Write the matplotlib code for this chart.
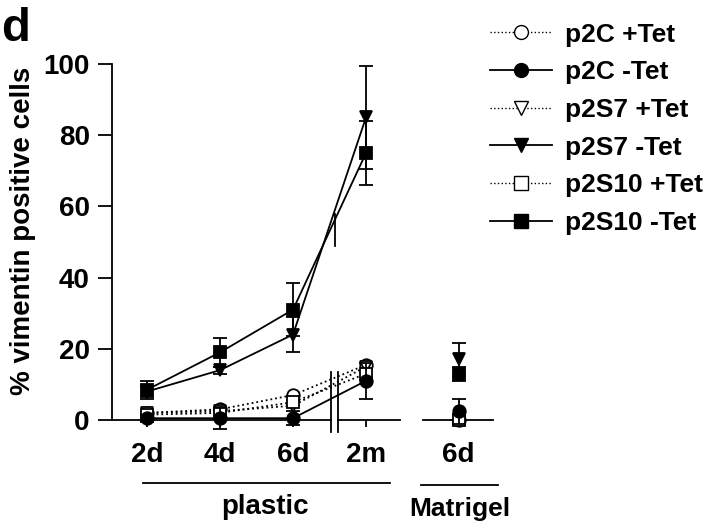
import matplotlib
matplotlib.use("Agg")
import matplotlib.pyplot as plt
from matplotlib.lines import Line2D

plt.rcParams["font.family"] = ["Liberation Sans", "DejaVu Sans"]
plt.rcParams["font.weight"] = "bold"

# x categories: four time points on plastic, one on Matrigel
tick_labels = ["2d", "4d", "6d", "2m", "6d"]
x_pos = [0, 1, 2, 3, 4.27]

# series values (plastic 2d,4d,6d,2m | Matrigel 6d)
p2C_plus = [2, 3, 7, 15.5, 0]
p2C_minus = [0.5, 0.5, 0.5, 11, 2.5]
p2S7_plus = [2, 2.5, 4, 15, 0]
p2S7_minus = [8, 14, 24, 85, 17]
p2S10_plus = [1.5, 2, 5, 13, 0]
p2S10_minus = [8.5, 19, 31, 75, 13]

err_p2S7_minus = [1.5, 1, 5, 14.5, 4.5]
err_p2S10_minus = [2.5, 4, 7.5, 9, 2]
err_low = [1, 3, 2, 5, 3.5]

series = [
    ("p2C +Tet", p2C_plus, "o", "white", ":", None),
    ("p2C -Tet", p2C_minus, "o", "black", "-", err_low),
    ("p2S7 +Tet", p2S7_plus, "v", "white", ":", None),
    ("p2S7 -Tet", p2S7_minus, "v", "black", "-", err_p2S7_minus),
    ("p2S10 +Tet", p2S10_plus, "s", "white", ":", None),
    ("p2S10 -Tet", p2S10_minus, "s", "black", "-", err_p2S10_minus),
]

fig = plt.figure(figsize=(7.2, 5.24), dpi=100)
ax = fig.add_axes([112 / 720, 1 - 420 / 524, (493 - 112) / 720, 356 / 524])

for label, vals, mk, fc, ls, err in series:
    z = 4 if fc == "black" else 3
    # connecting line only across the plastic points
    ax.plot(x_pos[:4], vals[:4], linestyle=ls, color="black", lw=1.3,
            clip_on=False, zorder=2)
    ax.errorbar(x_pos, vals, yerr=err, fmt=mk, mfc=fc, mec="black",
                ms=9, mew=1.3, ecolor="black", elinewidth=1.3, capsize=5,
                capthick=1.3, clip_on=False, zorder=z)

ax.set_xlim(-0.48, 4.74)
ax.set_ylim(0, 100)
ax.set_yticks([0, 20, 40, 60, 80, 100])
ax.set_xticks(x_pos)
ax.set_xticklabels(tick_labels)
ax.tick_params(axis="y", direction="out", length=10, width=1.3, labelsize=20, pad=6)
ax.tick_params(axis="x", direction="out", length=5, width=1.3, labelsize=20, pad=11)
ax.spines["top"].set_visible(False)
ax.spines["right"].set_visible(False)
ax.spines["bottom"].set_visible(False)
ax.spines["left"].set_linewidth(1.3)
ax.spines["left"].set_bounds(0, 100)
ax.set_ylabel("% vimentin positive cells", fontsize=20, fontweight="bold", labelpad=4)
ax.yaxis.set_label_coords(-0.2, 0.53)

# broken x axis
ax.plot([-0.48, 2.52], [0, 0], color="black", lw=1.3, clip_on=False, zorder=1)
ax.plot([2.62, 3.47], [0, 0], color="black", lw=1.3, clip_on=False, zorder=1)
ax.plot([3.78, 4.74], [0, 0], color="black", lw=1.3, clip_on=False, zorder=1)
for bx in [2.52, 2.62]:
    ax.plot([bx, bx], [-3.5, 13.5], color="black", lw=1.3, clip_on=False)
ax.plot([2.57, 2.57], [49, 58], color="black", lw=1.3, clip_on=False)

# group labels
tr = ax.get_xaxis_transform()
ax.plot([-0.05, 3.33], [-0.177, -0.177], color="black", lw=1.3, transform=tr, clip_on=False)
ax.plot([3.75, 4.81], [-0.183, -0.183], color="black", lw=1.3, transform=tr, clip_on=False)
ax.text(1.62, -0.245, "plastic", transform=tr, ha="center", va="center", fontsize=20, fontweight="bold")
ax.text(4.29, -0.25, "Matrigel", transform=tr, ha="center", va="center", fontsize=19, fontweight="bold")

fig.text(0.002, 1 - 41 / 524, "d", fontsize=34, fontweight="bold", ha="left", va="baseline")

handles = [Line2D([], [], color="black", lw=1.3 if ls == "-" else 1.0, linestyle=ls,
                  marker=mk, mfc=fc, mec="black", ms=10, mew=1.0)
           for label, vals, mk, fc, ls, err in series]
fig.legend(handles, [s[0] for s in series], loc="upper left",
           bbox_to_anchor=(479 / 720, 1 - 12 / 524), frameon=False, borderaxespad=0,
           fontsize=19, handlelength=2.35, labelspacing=0.52, handletextpad=0.5)

fig.savefig("out.png", dpi=100)
